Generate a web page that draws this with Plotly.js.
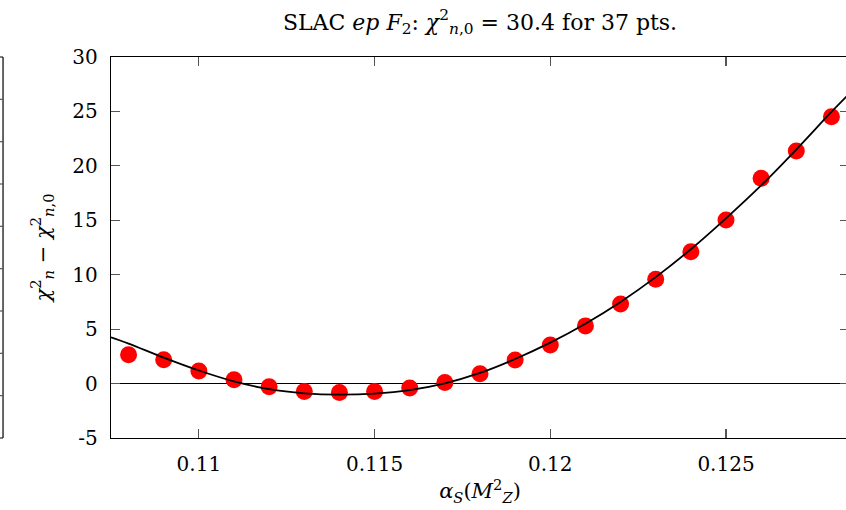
<!DOCTYPE html>
<html>
<head>
<meta charset="utf-8">
<script src="https://cdn.plot.ly/plotly-3.0.1.min.js"></script>
<style>
  html, body { margin: 0; padding: 0; overflow: hidden; background: #fff; }
  #chart { width: 849px; height: 510px; }
</style>
</head>
<body>
<div id="chart"></div>
<script>
// alpha_S(M_Z^2) values at which the chi^2 scan was evaluated
const alphaS = [0.108, 0.109, 0.110, 0.111, 0.112, 0.113, 0.114, 0.115, 0.116, 0.117,
                0.118, 0.119, 0.120, 0.121, 0.122, 0.123, 0.124, 0.125, 0.126, 0.127, 0.128];
// chi^2_n - chi^2_{n,0} at each scan point
const deltaChi2 = [2.65, 2.19, 1.15, 0.35, -0.30, -0.72, -0.81, -0.72, -0.40, 0.10,
                   0.90, 2.17, 3.55, 5.30, 7.32, 9.58, 12.12, 15.03, 18.86, 21.36, 24.52];

// smooth fit through the scan
const fitAlpha = [0.1075, 0.108, 0.109, 0.110, 0.111, 0.112, 0.113, 0.114, 0.115, 0.116, 0.117,
                  0.118, 0.119, 0.120, 0.121, 0.122, 0.123, 0.124, 0.125, 0.126, 0.127, 0.128, 0.1285];
const fitChi2 = [4.25, 3.67, 2.38, 1.20, 0.20, -0.52, -0.90, -1.02, -0.92, -0.60, 0.02,
                 0.98, 2.26, 3.76, 5.50, 7.50, 9.78, 12.34, 15.18, 18.20, 21.50, 24.95, 26.60];

const xTicks = [0.11, 0.115, 0.12, 0.125];
const xTickText = ['0.11', '0.115', '0.12', '0.125'];
const yTicks = [-5, 0, 5, 10, 15, 20, 25, 30];
const yTickText = ['-5', '0', '5', '10', '15', '20', '25', '30'];

const serif = 'DejaVu Serif, Liberation Serif, serif';

const traces = [
  {
    x: alphaS, y: deltaChi2, type: 'scatter', mode: 'markers',
    marker: { color: '#ff0000', size: 17, line: { width: 0 } },
    cliponaxis: true, hoverinfo: 'skip'
  },
  {
    x: fitAlpha, y: fitChi2, type: 'scatter', mode: 'lines',
    line: { color: '#000', width: 1.8, shape: 'spline', smoothing: 1 },
    hoverinfo: 'skip'
  }
];

// right-hand frame edge of the neighbouring panel, with its ticks
const neighbourX = -0.1463;
const neighbourShapes = [
  { type: 'line', xref: 'paper', yref: 'paper', x0: neighbourX, x1: neighbourX, y0: 0, y1: 1,
    line: { color: '#000', width: 1.2 } },
  { type: 'line', xref: 'paper', yref: 'paper', x0: -0.2, x1: neighbourX, y0: 1, y1: 1,
    line: { color: '#000', width: 1.2 } },
  { type: 'line', xref: 'paper', yref: 'paper', x0: -0.2, x1: neighbourX, y0: 0, y1: 0,
    line: { color: '#000', width: 1.2 } }
];
for (let k = 1; k < 9; k++) {
  neighbourShapes.push({ type: 'line', xref: 'paper', yref: 'paper',
    x0: neighbourX - 0.012, x1: neighbourX, y0: k / 9, y1: k / 9,
    line: { color: '#555', width: 1.2 } });
}

const layout = {
  width: 849, height: 510, autosize: false,
  margin: { l: 111, r: 0, t: 57, b: 72, pad: 0 },
  paper_bgcolor: '#fff', plot_bgcolor: '#fff',
  showlegend: false,
  font: { family: serif, size: 20, color: '#000' },
  title: {
    text: 'SLAC <i>ep F</i><sub>2</sub>: <i>χ</i><sup>2</sup><sub><i>n</i>,0</sub> = 30.4 for 37 pts.',
    font: { family: serif, size: 22, color: '#000' },
    xref: 'paper', x: 0.5, xanchor: 'center',
    yref: 'container', y: 0.957, yanchor: 'middle'
  },
  xaxis: {
    range: [0.1075, 0.1285],
    tickvals: xTicks, ticktext: xTickText,
    ticks: 'inside', ticklen: 9, tickwidth: 1.2, tickcolor: '#555',
    showline: true, linecolor: '#000', linewidth: 1.3, mirror: 'ticks',
    showgrid: false, zeroline: false,
    tickfont: { family: serif, size: 20, color: '#000' },
    ticklabelstandoff: 8,
    title: { text: '<i>α</i><sub><i>S</i></sub>(<i>M</i><sup>2</sup><sub><i>Z</i></sub>)',
             font: { family: serif, size: 21, color: '#000' }, standoff: 8 }
  },
  yaxis: {
    range: [-5, 30],
    tickvals: yTicks, ticktext: yTickText,
    ticks: 'inside', ticklen: 9, tickwidth: 1.2, tickcolor: '#555',
    showline: true, linecolor: '#000', linewidth: 1.3, mirror: 'ticks',
    showgrid: false,
    zeroline: true, zerolinecolor: '#000', zerolinewidth: 1.6,
    tickfont: { family: serif, size: 20, color: '#000' },
    ticklabelstandoff: 8,
    title: { text: '<i>χ</i><sup>2</sup><sub><i>n</i></sub> − <i>χ</i><sup>2</sup><sub><i>n</i>,0</sub>',
             font: { family: serif, size: 21, color: '#000' }, standoff: 16 }
  },
  shapes: neighbourShapes
};

Plotly.newPlot('chart', traces, layout, { staticPlot: true, displayModeBar: false });
</script>
</body>
</html>
